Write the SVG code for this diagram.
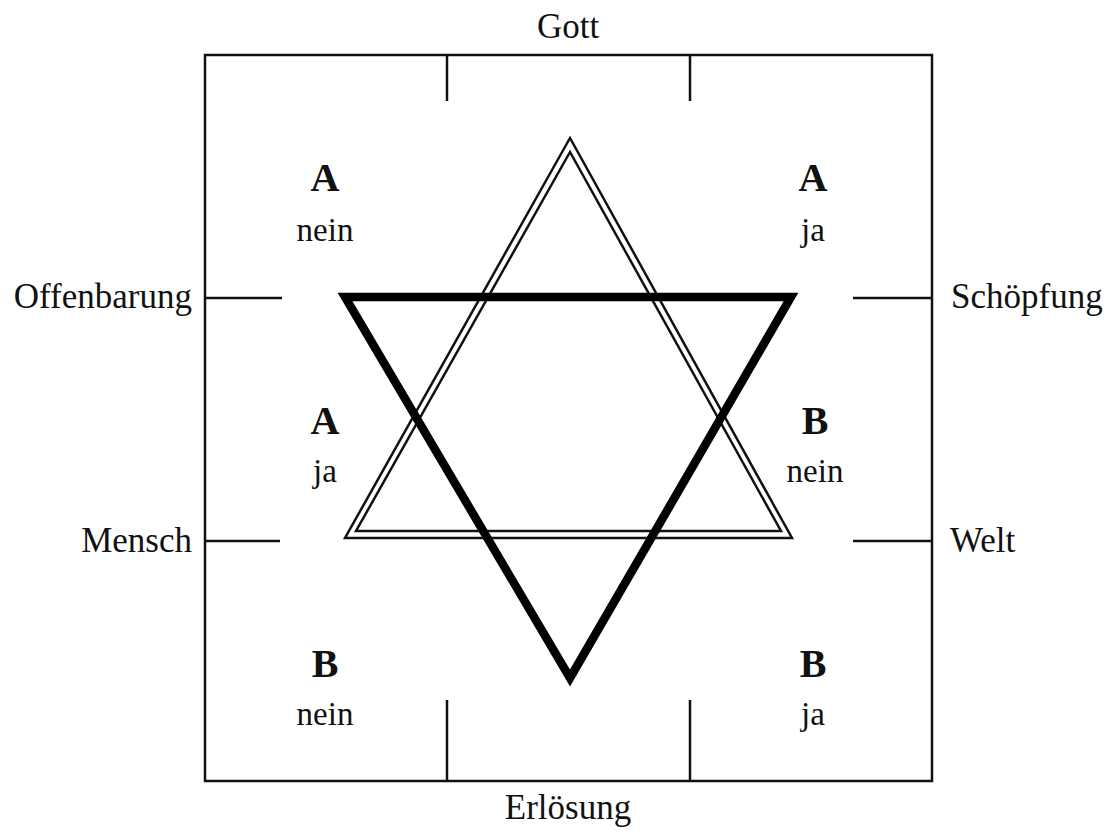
<svg xmlns="http://www.w3.org/2000/svg" width="1107" height="836" viewBox="0 0 1107 836">
<style>
.ln{stroke:#111;stroke-width:2.5;fill:none}
.dbl{stroke:#111;stroke-width:2.5;fill:none;stroke-linejoin:miter}
.thk{stroke:#000;stroke-width:8.5;fill:none;stroke-linejoin:miter;stroke-miterlimit:10}
.lbl{font-family:"Liberation Serif",serif;font-size:35px;fill:#111}
.big{font-family:"Liberation Serif",serif;font-size:40px;font-weight:bold;fill:#111;text-anchor:middle}
.sm{font-family:"Liberation Serif",serif;font-size:33px;fill:#111;text-anchor:middle}
</style>
<rect width="1107" height="836" fill="#fff"/>
<g id="frame">
<rect x="205" y="55" width="727" height="726" class="ln"/>
</g>
<g id="connectors">
<line x1="447" y1="55" x2="447" y2="101" class="ln"/>
<line x1="690" y1="55" x2="690" y2="101" class="ln"/>
<line x1="447" y1="700" x2="447" y2="781" class="ln"/>
<line x1="690" y1="700" x2="690" y2="781" class="ln"/>
<line x1="205" y1="298" x2="282" y2="298" class="ln"/>
<line x1="205" y1="541" x2="280" y2="541" class="ln"/>
<line x1="853" y1="298" x2="932" y2="298" class="ln"/>
<line x1="853" y1="541" x2="932" y2="541" class="ln"/>
</g>
<g id="triangle-up">
<polygon points="570,138 345,538 792,538" class="dbl"/>
<polygon points="570,152 356,531 781,531" class="dbl"/>
</g>
<g id="triangle-down">
<polygon points="345,297 791,297 570,678" class="thk"/>
</g>
<g id="label-gott"><text x="568" y="38" class="lbl" text-anchor="middle">Gott</text></g>
<g id="label-erloesung"><text x="568" y="819" class="lbl" text-anchor="middle">Erlösung</text></g>
<g id="label-offenbarung"><text x="192" y="308" class="lbl" text-anchor="end">Offenbarung</text></g>
<g id="label-mensch"><text x="192" y="552" class="lbl" text-anchor="end">Mensch</text></g>
<g id="label-schoepfung"><text x="951" y="308" class="lbl">Schöpfung</text></g>
<g id="label-welt"><text x="950" y="552" class="lbl">Welt</text></g>
<g id="tl"><text x="325" y="191" class="big">A</text><text x="325" y="241" class="sm">nein</text></g>
<g id="tr"><text x="813" y="191" class="big">A</text><text x="813" y="241" class="sm">ja</text></g>
<g id="ml"><text x="325" y="434" class="big">A</text><text x="325" y="482" class="sm">ja</text></g>
<g id="mr"><text x="815" y="434" class="big">B</text><text x="815" y="482" class="sm">nein</text></g>
<g id="bl"><text x="325" y="677" class="big">B</text><text x="325" y="725" class="sm">nein</text></g>
<g id="br"><text x="813" y="677" class="big">B</text><text x="813" y="725" class="sm">ja</text></g>
</svg>
